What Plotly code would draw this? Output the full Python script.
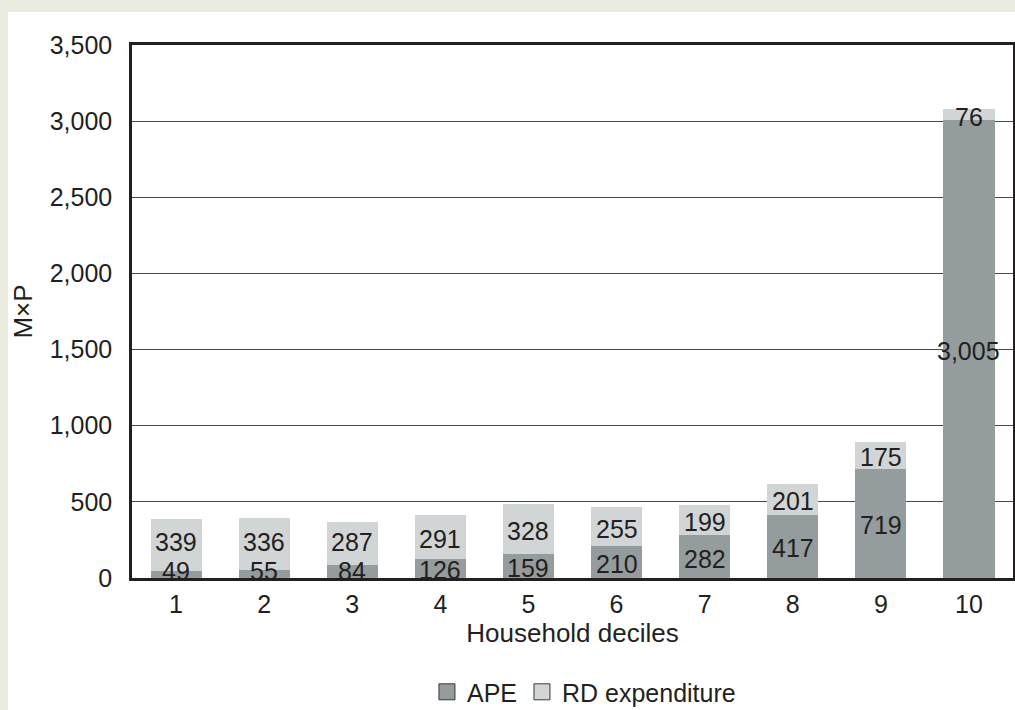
import plotly.graph_objects as go

deciles = ["1", "2", "3", "4", "5", "6", "7", "8", "9", "10"]
ape = [49, 55, 84, 126, 159, 210, 282, 417, 719, 3005]
rd = [339, 336, 287, 291, 328, 255, 199, 201, 175, 76]
ape_name = "APE"
rd_name = "RD expenditure"

APE_COLOR = "#959c9e"
RD_COLOR = "#d1d5d6"
TEXT = "#231f20"
BEIGE = "#e9ecdf"
FONT = "Liberation Sans, Arial, sans-serif"

xpos = list(range(1, len(deciles) + 1))

fig = go.Figure()
fig.add_trace(go.Bar(x=xpos, y=ape, marker=dict(color=APE_COLOR, line_width=0),
                     name=ape_name, showlegend=False, hoverinfo="y"))
fig.add_trace(go.Bar(x=xpos, y=rd, marker=dict(color=RD_COLOR, line_width=0),
                     name=rd_name, showlegend=False, hoverinfo="y"))
# legend entries
for nm, col in [(ape_name, APE_COLOR), (rd_name, RD_COLOR)]:
    fig.add_trace(go.Scatter(x=[None], y=[None], mode="markers", name=nm,
                             marker=dict(symbol="square", size=16, color=col,
                                         line=dict(color="#3a3a3a", width=1))))

annotations = []
for xp, a, r in zip(xpos, ape, rd):
    ya = max(a / 2, 60)
    annotations.append(dict(x=xp, y=ya, xref="x", yref="y", text=f"{a:,}", showarrow=False,
                            font=dict(size=25, color=TEXT, family=FONT), yshift=-2,
                            borderpad=0))
    yr = max(a + r / 2, ya + 190)
    annotations.append(dict(x=xp, y=yr, xref="x", yref="y", text=f"{r:,}", showarrow=False,
                            font=dict(size=25, color=TEXT, family=FONT), yshift=-2,
                            borderpad=0))

W, H = 1015, 710
ml, mr, mt, mb = 132, 2, 45, 132
pw, ph = W - ml - mr, H - mt - mb

fig.update_layout(
    width=W, height=H,
    margin=dict(l=ml, r=mr, t=mt, b=mb, autoexpand=False),
    barmode="stack", bargap=0.42,
    paper_bgcolor=BEIGE, plot_bgcolor="white",
    font=dict(family=FONT, size=25, color=TEXT),
    annotations=annotations,
    shapes=[dict(type="rect", xref="paper", yref="paper", layer="below",
                 x0=-(ml - 8) / pw, x1=1 + (mr + 5) / pw,
                 y0=-(mb + 5) / ph, y1=1 + (mt - 12) / ph,
                 fillcolor="white", line_width=0)],
    legend=dict(orientation="h", x=0.513, xanchor="center", y=-0.214, yanchor="middle",
                font=dict(size=25, color=TEXT, family=FONT), bgcolor="rgba(0,0,0,0)",
                itemclick=False, tracegroupgap=0, traceorder="normal"),
    xaxis=dict(range=[0.5, len(deciles) + 0.5], tickvals=xpos, ticktext=deciles,
               showline=True, mirror=True, linecolor=TEXT, linewidth=2.5,
               ticks="", ticklabelstandoff=2, tickfont=dict(size=25),
               title=dict(text="Household deciles", font=dict(size=26), standoff=6),
               showgrid=False, zeroline=False, automargin=False),
    yaxis=dict(range=[0, 3500], dtick=500, tickformat=",", showline=True, mirror=True,
               linecolor=TEXT, linewidth=2.5, showgrid=True, gridcolor="#4a4a4a", gridwidth=1,
               ticks="", ticklabelstandoff=12, tickfont=dict(size=25), zeroline=False,
               title=dict(text="M×P", font=dict(size=26), standoff=10), automargin=False),
)

fig.write_html("out.html")
